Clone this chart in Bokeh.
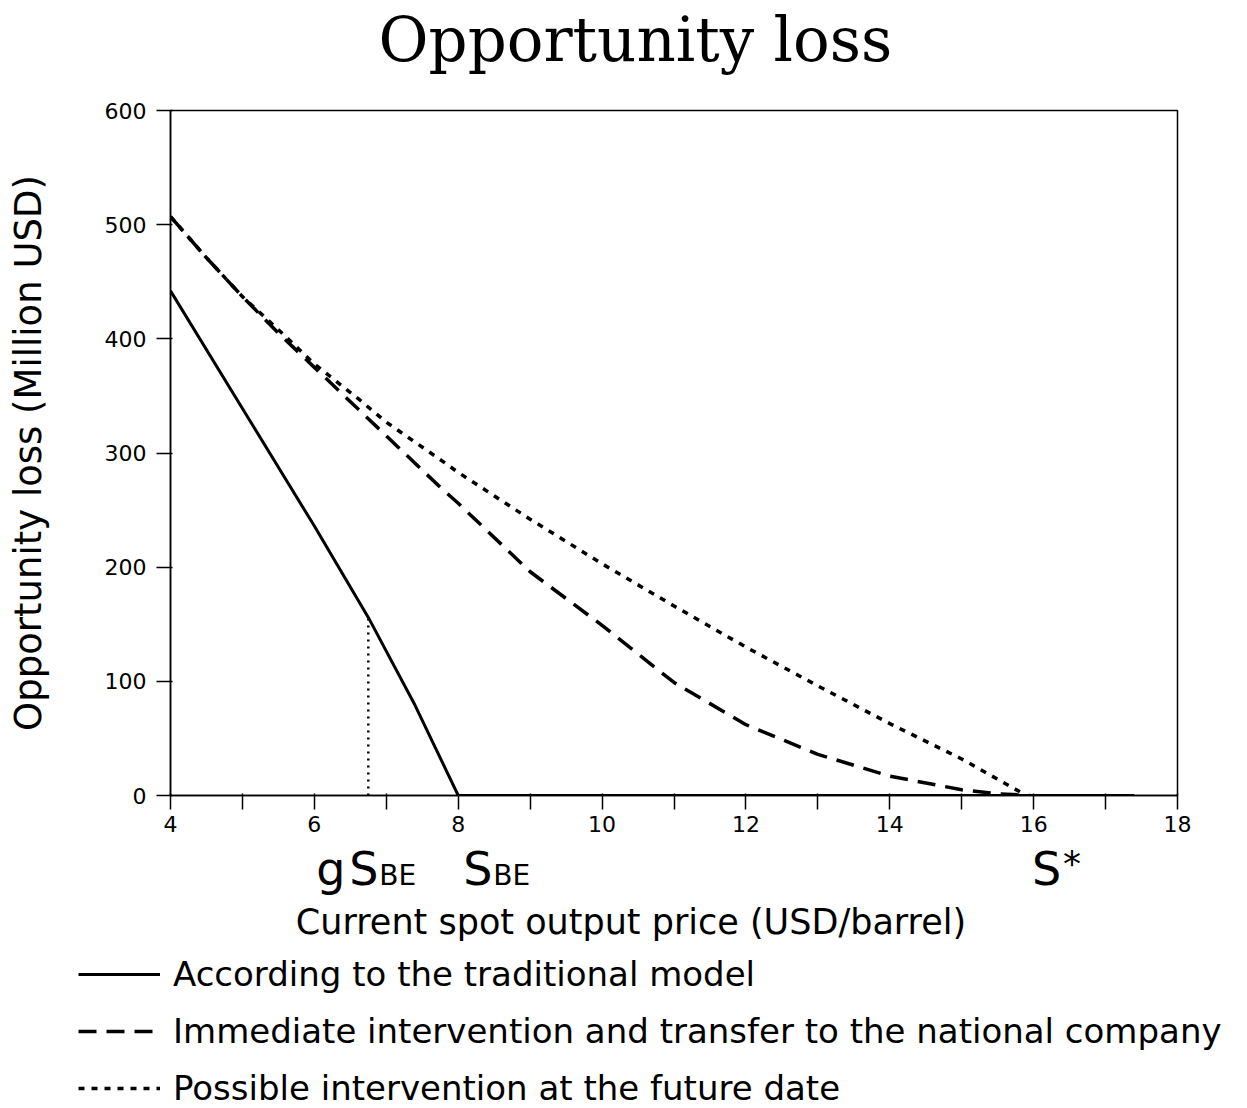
from bokeh.plotting import figure
from bokeh.layouts import column
from bokeh.core.properties import value
from bokeh.models import Range1d, FixedTicker, Legend, LegendItem, ColumnDataSource
from bokeh.embed import file_html
from bokeh.resources import INLINE

# Opportunity loss (million USD) against the current spot price (USD/barrel)
price_traditional = [4.0, 5.0, 6.0, 6.75, 7.4, 8.0, 17.4]
loss_traditional = [442, 339, 236, 156, 79, 0, 0]

price_immediate = [4.0, 4.5, 5.0, 5.5, 6.0, 7.0, 7.75, 8.0, 9.0, 10.0, 11.0,
                   12.0, 13.0, 14.0, 15.0, 15.5, 15.95]
loss_immediate = [507, 471, 437, 405, 375, 315, 270, 256, 196, 149, 99,
                  62, 36, 17, 5, 1.5, 0]

price_future = [4.0, 4.5, 5.0, 5.5, 6.0, 6.64, 7.0, 7.8, 8.0, 9.0, 10.0,
                11.0, 12.0, 13.0, 14.0, 15.0, 15.9]
loss_future = [507, 471, 437, 408, 378, 346, 327, 292, 283, 242, 203,
               166, 130, 96, 63, 32, 0]

# g*S_BE marker on the traditional curve
gsbe_price = [6.75]
gsbe_loss = [156]

# prices named under the axis: g*S_BE, S_BE and S*
marker_price = [6.75, 8.0, 15.95]

x_major = [4, 6, 8, 10, 12, 14, 16, 18]
x_minor = [5, 7, 9, 11, 13, 15, 17]
y_major = [0, 100, 200, 300, 400, 500, 600]

chart_title = "Opportunity loss"
x_title = "Current spot output price (USD/barrel)"
y_title = "Opportunity loss (Million USD)"
series_names = [
    "According to the traditional model",
    "Immediate intervention and transfer to the national company",
    "Possible intervention at the future date",
]

SANS = value("DejaVu Sans")
SERIF = value("DejaVu Serif")

W = 1247
HEAD_H = 90
LEFT, RIGHT, TOP, BOTTOM = 170, 70, 20, 47
FRAME_H = 685
MAIN_H = TOP + FRAME_H + BOTTOM
STRIP_H = 1108 - HEAD_H - MAIN_H


def on_baseline(baseline_px, size_px):
    # the text glyph anchors a little above the alphabetic baseline
    return baseline_px - 0.39 * size_px


def bare(height, x_range, y_range):
    f = figure(width=W, height=height, output_backend="svg",
               toolbar_location=None, x_range=x_range, y_range=y_range,
               x_axis_type=None, y_axis_type=None,
               min_border=0, min_border_left=0, min_border_right=0,
               min_border_top=0, min_border_bottom=0)
    f.outline_line_color = None
    f.grid.visible = False
    f.background_fill_color = "white"
    f.border_fill_color = "white"
    f.frame_align = False
    return f


# ---- heading ------------------------------------------------------------------
head = bare(HEAD_H, Range1d(0, W), Range1d(HEAD_H, 0))
head.text(x=[635], y=[on_baseline(63, 61)], text=[chart_title], text_font=SERIF,
          text_font_size="61px", text_color="black",
          text_align="center", text_baseline="alphabetic")

# ---- main chart -------------------------------------------------------------
p = figure(width=W, height=MAIN_H, output_backend="svg", toolbar_location=None,
           x_range=Range1d(x_major[0], x_major[-1]),
           y_range=Range1d(y_major[0], y_major[-1]),
           min_border_left=LEFT, min_border_right=RIGHT,
           min_border_top=TOP, min_border_bottom=BOTTOM)
p.frame_align = False
p.background_fill_color = "white"
p.border_fill_color = "white"
p.outline_line_color = "black"
p.outline_line_width = 1.5
p.grid.visible = False

p.xaxis.ticker = FixedTicker(ticks=x_major, minor_ticks=x_minor)
p.yaxis.ticker = FixedTicker(ticks=y_major, minor_ticks=[])
for ax in (p.xaxis[0], p.yaxis[0]):
    ax.axis_line_color = "black"
    ax.axis_line_width = 1.5
    ax.major_tick_line_color = "black"
    ax.major_tick_line_width = 1.5
    ax.minor_tick_line_color = "black"
    ax.minor_tick_line_width = 1.5
    ax.major_tick_in = 2
    ax.major_tick_out = 14
    ax.minor_tick_in = 2
    ax.minor_tick_out = 14
    ax.major_label_text_font = "DejaVu Sans"
    ax.major_label_text_font_size = "22px"
    ax.major_label_text_color = "black"
p.xaxis.major_label_standoff = 6
p.yaxis.major_label_standoff = 10
p.yaxis.axis_label = y_title
p.yaxis.axis_label_text_font = "DejaVu Sans"
p.yaxis.axis_label_text_font_size = "37px"
p.yaxis.axis_label_text_font_style = "normal"
p.yaxis.axis_label_text_color = "black"
p.yaxis.axis_label_standoff = 52

src_t = ColumnDataSource(dict(x=price_traditional, y=loss_traditional))
src_i = ColumnDataSource(dict(x=price_immediate, y=loss_immediate))
src_f = ColumnDataSource(dict(x=price_future, y=loss_future))

SOLID = dict(line_color="black", line_width=3)
DASHED = dict(line_color="black", line_width=3.5, line_dash="18 10")
DOTTED = dict(line_color="black", line_width=3.5, line_dash="6 7")

p.line("x", "y", source=src_t, **SOLID)
p.line("x", "y", source=src_i, **DASHED)
p.line("x", "y", source=src_f, **DOTTED)

p.segment(x0=gsbe_price, y0=[0], x1=gsbe_price, y1=gsbe_loss,
          line_color="black", line_width=2.5, line_dash="2 5")

# ---- strip under the chart: price symbols, axis title, legend --------------
px_per_unit = (W - LEFT - RIGHT) / (x_major[-1] - x_major[0])
strip_x = Range1d(x_major[0] - LEFT / px_per_unit,
                  x_major[-1] + RIGHT / px_per_unit)
q = bare(STRIP_H, strip_x, Range1d(STRIP_H, 0))

base = 44  # baseline of the price symbols, px below the strip top
big = dict(text_font_size="46px", text_font=SANS, text_color="black",
           text_baseline="alphabetic", text_align="left")
small = dict(text_font_size="28px", text_font=SANS, text_color="black",
             text_baseline="alphabetic", text_align="left")

g_at, be_at, star_at = marker_price
q.text(x=[g_at, g_at, be_at, star_at], y=[on_baseline(base, 46)] * 4,
       text=["g", "S", "S", "S"], x_offset=[-52, -19, 5, 2], **big)
q.text(x=[g_at, be_at], y=[on_baseline(base, 28)] * 2, text=["BE", "BE"],
       x_offset=[11, 35], **small)
# superscript star, raised to the top of the capital S
q.text(x=[star_at], y=[on_baseline(35, 36)], text=["*"], x_offset=[33],
       text_font_size="36px", text_font=SANS, text_color="black",
       text_baseline="alphabetic", text_align="left")

q.text(x=[(strip_x.start + strip_x.end) / 2], y=[on_baseline(93, 35)],
       text=[x_title], x_offset=[7], text_font_size="35px", text_font=SANS,
       text_color="black", text_baseline="alphabetic", text_align="center")

nan = float("nan")
k_t = q.line(x=[nan], y=[nan], **SOLID)
k_i = q.line(x=[nan], y=[nan], **DASHED)
k_f = q.line(x=[nan], y=[nan], **DOTTED)
legend = Legend(items=[LegendItem(label=series_names[0], renderers=[k_t]),
                       LegendItem(label=series_names[1], renderers=[k_i]),
                       LegendItem(label=series_names[2], renderers=[k_f])],
                location=(78, 0), orientation="vertical",
                glyph_width=82, glyph_height=40, label_height=40,
                label_standoff=13, spacing=17, padding=0, margin=0,
                border_line_color=None, background_fill_alpha=0,
                label_text_font="DejaVu Sans", label_text_font_size="34px",
                label_text_color="black")
q.add_layout(legend, "center")

layout = column(head, p, q, spacing=0)
open("out.html", "w").write(file_html(layout, INLINE))
